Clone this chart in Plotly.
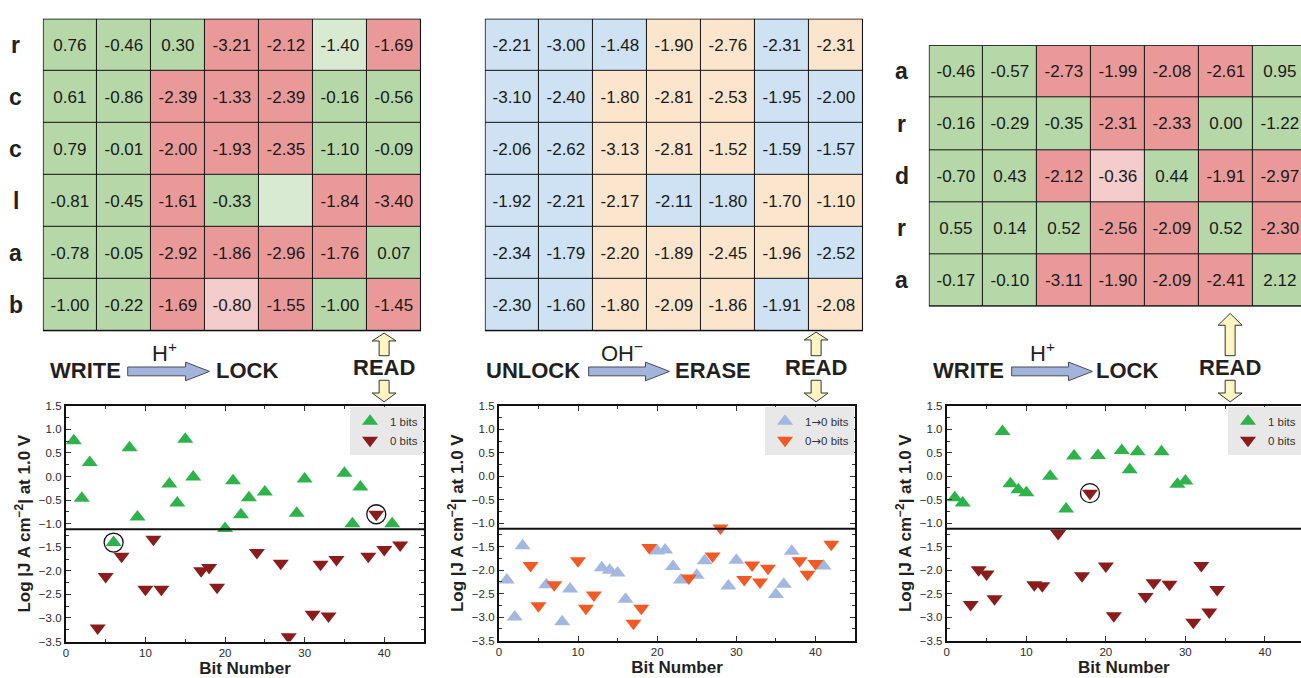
import plotly.graph_objects as go

W, H = 1301, 678
FONT = "Liberation Sans, Arial, Helvetica, sans-serif"
INK = "#231f20"

# ---------------- Data: heatmap grids (bits read row-wise) ----------------
p1_rows = ["r", "c", "c", "l", "a", "b"]
p1_values = [
    [0.76, -0.46, 0.30, -3.21, -2.12, -1.40, -1.69],
    [0.61, -0.86, -2.39, -1.33, -2.39, -0.16, -0.56],
    [0.79, -0.01, -2.00, -1.93, -2.35, -1.10, -0.09],
    [-0.81, -0.45, -1.61, -0.33, None, -1.84, -3.40],
    [-0.78, -0.05, -2.92, -1.86, -2.96, -1.76, 0.07],
    [-1.00, -0.22, -1.69, -0.80, -1.55, -1.00, -1.45],
]
# G = written 1, R = written 0, g / r = lighter (misread / missing)
p1_states = ["GGGRRgR", "GGRRRGG", "GGRRRGG", "GGRGgRR", "GGRRRRG", "GGRrRGR"]

p2_values = [
    [-2.21, -3.00, -1.48, -1.90, -2.76, -2.31, -2.31],
    [-3.10, -2.40, -1.80, -2.81, -2.53, -1.95, -2.00],
    [-2.06, -2.62, -3.13, -2.81, -1.52, -1.59, -1.57],
    [-1.92, -2.21, -2.17, -2.11, -1.80, -1.70, -1.10],
    [-2.34, -1.79, -2.20, -1.89, -2.45, -1.96, -2.52],
    [-2.30, -1.60, -1.80, -2.09, -1.86, -1.91, -2.08],
]
# B = 1->0 (blue), O = 0->0 (orange)
p2_states = ["BBBOOBO", "BBOOOBB", "BBOOOBB", "BBOBBOO", "BBOOOOB", "BBOOOBO"]

p3_rows = ["a", "r", "d", "r", "a"]
p3_values = [
    [-0.46, -0.57, -2.73, -1.99, -2.08, -2.61, 0.95],
    [-0.16, -0.29, -0.35, -2.31, -2.33, 0.00, -1.22],
    [-0.70, 0.43, -2.12, -0.36, 0.44, -1.91, -2.97],
    [0.55, 0.14, 0.52, -2.56, -2.09, 0.52, -2.30],
    [-0.17, -0.10, -3.11, -1.90, -2.09, -2.41, 2.12],
]
p3_states = ["GGRRRRG", "GGGRRGG", "GGRrGRR", "GGGRRGR", "GGRRRRG"]

# ---------------- Data: scatter panels ----------------
p1_one_bits = [1, 2, 3, 6, 8, 9, 13, 14, 15, 16, 20, 21, 22, 23, 25, 29, 30, 35, 36, 37, 41]
p1_one_vals = [0.76, -0.46, 0.30, -1.40, 0.61, -0.86, -0.16, -0.56, 0.79, -0.01, -1.10,
               -0.09, -0.81, -0.45, -0.33, -0.78, -0.05, 0.07, -1.00, -0.22, -1.00]
p1_zero_bits = [4, 5, 7, 10, 11, 12, 17, 18, 19, 24, 27, 28, 31, 32, 33, 34, 38, 39, 40, 42]
p1_zero_vals = [-3.21, -2.12, -1.69, -2.39, -1.33, -2.39, -2.00, -1.93, -2.35, -1.61,
                -1.84, -3.40, -2.92, -1.86, -2.96, -1.76, -1.69, -0.80, -1.55, -1.45]
p1_circled_bits = [6, 39]
p1_circled_vals = [-1.40, -0.80]

p2_one_bits = [1, 2, 3, 6, 8, 9, 13, 14, 15, 16, 20, 21, 22, 23, 25, 26, 29, 30, 35, 36, 37, 41]
p2_one_vals = [-2.21, -3.00, -1.48, -2.31, -3.10, -2.40, -1.95, -2.00, -2.06, -2.62, -1.59,
               -1.57, -1.92, -2.21, -2.11, -1.80, -2.34, -1.79, -2.52, -2.30, -1.60, -1.91]
p2_zero_bits = [4, 5, 7, 10, 11, 12, 17, 18, 19, 24, 27, 28, 31, 32, 33, 34, 38, 39, 40, 42]
p2_zero_vals = [-1.90, -2.76, -2.31, -1.80, -2.81, -2.53, -3.13, -2.81, -1.52, -2.17,
                -1.70, -1.10, -2.20, -1.89, -2.25, -1.96, -1.80, -2.09, -1.86, -1.45]

p3_one_bits = [1, 2, 7, 8, 9, 10, 13, 15, 16, 19, 22, 23, 24, 27, 29, 30, 35]
p3_one_vals = [-0.46, -0.57, 0.95, -0.16, -0.29, -0.35, 0.00, -0.70, 0.43, 0.44, 0.55,
               0.14, 0.52, 0.52, -0.17, -0.10, 2.12]
p3_zero_bits = [3, 4, 5, 6, 11, 12, 14, 17, 18, 20, 21, 25, 26, 28, 31, 32, 33, 34]
p3_zero_vals = [-2.73, -1.99, -2.08, -2.61, -2.31, -2.33, -1.22, -2.12, -0.36, -1.91,
                -2.97, -2.56, -2.27, -2.30, -3.11, -1.90, -2.89, -2.41]
p3_circled_bits = [18]
p3_circled_vals = [-0.36]

threshold = -1.12
y_range = [-3.5, 1.5]
x_range = [0, 45]

ARROW = '<span style="font-family:DejaVu Sans">\u2192</span>'
names_p1 = ["1 bits", "0 bits"]
names_p2 = ["1" + ARROW + "0 bits", "0" + ARROW + "0 bits"]
names_p3 = ["1 bits", "0 bits"]

# ---------------- Styles ----------------
STATE_ORDER = "GRgrBO"
STATE_COLORS = ["#b6d7a8", "#ea9999", "#d9ead3", "#f4cccc", "#cfe2f3", "#fce5cd"]
colorscale = []
n = len(STATE_ORDER)
for i, c in enumerate(STATE_COLORS):
    colorscale.append([i / n, c])
    colorscale.append([(i + 1) / n, c])

GREEN = "#2db34a"
DARKRED = "#8b1c1c"
BLUE = "#a3b8e0"
ORANGE = "#f15a24"


def px_x(x):
    return x / W


def px_y(y):
    return 1 - y / H


fig = go.Figure()

# ---------------- Heatmaps ----------------
hm_specs = [
    (p1_values, p1_states, "x", "y", [40, 419], [13, 331], 7.0),
    (p2_values, p2_states, "x2", "y2", [483, 862], [13, 331], 7.0),
    (p3_values, p3_states, "x3", "y3", [928, 1301], [40, 306], 373 / 54.14),
]
shapes = []
annotations = []
layout_axes = {}
for k, (vals, states, xa, ya, xd, yd, ncols_vis) in enumerate(hm_specs):
    z = [[STATE_ORDER.index(s) for s in row] for row in states]
    txt = [[" " if v is None else f"{v:.2f}" for v in row] for row in vals]
    fig.add_trace(go.Heatmap(
        z=z, text=txt, texttemplate="%{text}",
        textfont=dict(family=FONT, size=17, color="#1a1a1a"),
        colorscale=colorscale, zmin=-0.5, zmax=n - 0.5, showscale=False,
        xgap=1, ygap=1, hoverinfo="skip", xaxis=xa, yaxis=ya,
    ))
    nrows = len(vals)
    xn = "xaxis" + xa[1:]
    yn = "yaxis" + ya[1:]
    layout_axes[xn] = dict(domain=[px_x(xd[0]), px_x(xd[1])], range=[-0.5, -0.5 + ncols_vis],
                           visible=False, anchor=ya, fixedrange=True)
    layout_axes[yn] = dict(domain=[px_y(yd[1]), px_y(yd[0])], range=[nrows - 0.5, -0.5],
                           visible=False, anchor=xa, fixedrange=True)
    shapes.append(dict(type="rect", xref=xa, yref=ya, x0=-0.5, x1=6.5, y0=-0.5, y1=nrows - 0.5,
                       fillcolor="#111111", line=dict(width=0), layer="below"))
    shapes.append(dict(type="rect", xref=xa, yref=ya, x0=-0.5, x1=6.5, y0=-0.5, y1=nrows - 0.5,
                       fillcolor="rgba(0,0,0,0)", line=dict(width=1.5, color="#111111"), layer="above"))

# row labels
for rows, xc, ya in [(p1_rows, 13, "y"), (p3_rows, 901, "y3")]:
    for i, r in enumerate(rows):
        annotations.append(dict(text=r, x=px_x(xc), xref="paper", y=i, yref=ya, showarrow=False,
                                xanchor="center", yanchor="middle",
                                font=dict(family=FONT, size=23, color=INK, weight="bold")))

# ---------------- Scatter panels ----------------
sc_specs = [
    ("x4", "y4", [63, 422], [407, 647], x_range, True,
     [(p1_one_bits, p1_one_vals, names_p1[0], GREEN, "triangle-up"),
      (p1_zero_bits, p1_zero_vals, names_p1[1], DARKRED, "triangle-down")],
     (p1_circled_bits, p1_circled_vals), "legend", 421),
    ("x5", "y5", [497, 854], [407, 646], x_range, True,
     [(p2_one_bits, p2_one_vals, names_p2[0], BLUE, "triangle-up"),
      (p2_zero_bits, p2_zero_vals, names_p2[1], ORANGE, "triangle-down")],
     None, "legend2", 853),
    ("x6", "y6", [946, 1301], [407, 646], [0, 355 / 7.97], False,
     [(p3_one_bits, p3_one_vals, names_p3[0], GREEN, "triangle-up"),
      (p3_zero_bits, p3_zero_vals, names_p3[1], DARKRED, "triangle-down")],
     (p3_circled_bits, p3_circled_vals), "legend3", 1301),
]

legends = {}
for xa, ya, xd, yd, xr, ymirror, series, circ, leg, leg_right in sc_specs:
    for bits, vals, name, col, sym in series:
        fig.add_trace(go.Scatter(
            x=bits, y=vals, mode="markers", name=name, xaxis=xa, yaxis=ya, legend=leg,
            marker=dict(symbol=sym, size=14, color=col, line=dict(width=0)),
            hoverinfo="x+y",
        ))
    if circ is not None:
        fig.add_trace(go.Scatter(
            x=circ[0], y=circ[1], mode="markers", showlegend=False, xaxis=xa, yaxis=ya,
            marker=dict(symbol="circle-open", size=19, color="#111111", line=dict(width=1.3, color="#111111")),
            hoverinfo="skip",
        ))
    xn = "xaxis" + xa[1:]
    yn = "yaxis" + ya[1:]
    layout_axes[xn] = dict(
        domain=[px_x(xd[0]), min(1.0, px_x(xd[1]))], range=xr, anchor=ya,
        showline=True, linewidth=2, linecolor="#111111", mirror="allticks",
        ticks="inside", ticklen=5, tickwidth=1, tickcolor="#333333", dtick=10, tick0=0,
        minor=dict(dtick=5, ticks="inside", ticklen=3, tickcolor="#333333"),
        showgrid=False, zeroline=False,
        tickfont=dict(family=FONT, size=11.5, color="#2a2a2a"),
        title=dict(text="Bit Number", standoff=2,
                   font=dict(family=FONT, size=17, color=INK, weight="bold")),
    )
    layout_axes[yn] = dict(
        domain=[px_y(yd[1]), px_y(yd[0])], range=y_range, anchor=xa,
        showline=True, linewidth=2, linecolor="#111111",
        mirror="allticks" if ymirror else False,
        ticks="inside", ticklen=5, tickwidth=1, tickcolor="#333333", dtick=0.5, tick0=0,
        tickformat=".1f",
        minor=dict(dtick=0.25, ticks="inside", ticklen=3, tickcolor="#333333"),
        showgrid=False, zeroline=False,
        tickfont=dict(family=FONT, size=11.5, color="#2a2a2a"),
        title=dict(text="Log |J A cm<sup>\u22122</sup>| at 1.0 V", standoff=4,
                   font=dict(family=FONT, size=17, color=INK, weight="bold")),
    )
    shapes.append(dict(type="line", xref=xa + " domain", yref=ya, x0=0, x1=1,
                       y0=threshold, y1=threshold, line=dict(color="#111111", width=2)))
    legends[leg] = dict(
        x=px_x(leg_right), xanchor="right", y=px_y(408), yanchor="top",
        bgcolor="#e8e8e8", borderwidth=0, font=dict(family=FONT, size=11.5, color="#333333"),
        itemwidth=30, tracegroupgap=0,
    )


# ---------------- Process labels & arrows ----------------
def hpath(x0, x1, yc, sh=4.5, hh=9.5, hl=24):
    xh = x1 - hl
    pts = [(x0, yc - sh), (xh, yc - sh), (xh, yc - hh), (x1, yc), (xh, yc + hh), (xh, yc + sh), (x0, yc + sh)]
    return "M " + " L ".join(f"{px_x(a):.5f},{px_y(b):.5f}" for a, b in pts) + " Z"


def vpath(xc, ytail, ytip, sw=5, hw=12, hl=9):
    sgn = -1 if ytip < ytail else 1
    yh = ytip - sgn * hl
    pts = [(xc - sw, ytail), (xc - sw, yh), (xc - hw, yh), (xc, ytip), (xc + hw, yh), (xc + sw, yh), (xc + sw, ytail)]
    return "M " + " L ".join(f"{px_x(a):.5f},{px_y(b):.5f}" for a, b in pts) + " Z"


def label(text, x, y, size=22, bold=True):
    annotations.append(dict(text=text, x=px_x(x), y=px_y(y), xref="paper", yref="paper",
                            showarrow=False, xanchor="center", yanchor="middle",
                            font=dict(family=FONT, size=size, color=INK,
                                      weight="bold" if bold else "normal")))


process = [
    # (left word, x, reagent, x, right word, x, arrow x0, x1, read x, up tip, up head len)
    ("WRITE", 83, "H<sup>+</sup>", 162, "LOCK", 245, 125, 207, 382, 333, 8),
    ("UNLOCK", 531, "OH<sup>\u2212</sup>", 620, "ERASE", 712, 587, 668, 815, 332, 8),
    ("WRITE", 968, "H<sup>+</sup>", 1042, "LOCK", 1127, 1011, 1092, 1230, 313, 12),
]
for lw, lx, rg, rgx, rw, rx, ax0, ax1, readx, uptip, uphl in process:
    label(lw, lx, 371)
    label(rw, rx, 371)
    label(rg, rgx, 352, size=22, bold=False)
    label("READ", readx, 368)
    shapes.append(dict(type="path", xref="paper", yref="paper", path=hpath(ax0, ax1, 372),
                       fillcolor="#a3b4dc", line=dict(color="#4a4a5a", width=1)))
    shapes.append(dict(type="path", xref="paper", yref="paper", path=vpath(readx, 356, uptip, hl=uphl),
                       fillcolor="#fdf6c3", line=dict(color="#333333", width=1)))
    shapes.append(dict(type="path", xref="paper", yref="paper", path=vpath(readx, 381, 403),
                       fillcolor="#fdf6c3", line=dict(color="#333333", width=1)))

fig.update_layout(
    width=W, height=H, margin=dict(l=0, r=0, t=0, b=0),
    paper_bgcolor="white", plot_bgcolor="white",
    shapes=shapes, annotations=annotations, hovermode="closest",
    **layout_axes, **legends,
)

fig.write_html("out.html")
